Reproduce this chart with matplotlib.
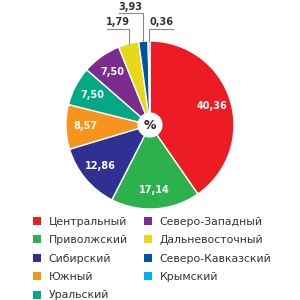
import numpy as np
import matplotlib
matplotlib.use("Agg")
import matplotlib.pyplot as plt
from matplotlib.patches import Circle

regions = ["Центральный", "Приволжский", "Сибирский", "Южный", "Уральский",
           "Северо-Западный", "Дальневосточный", "Северо-Кавказский", "Крымский"]
values = [40.36, 17.14, 12.86, 8.57, 7.50, 7.50, 3.93, 1.79, 0.36]
# подписи как на картинке
value_labels = ["40,36", "17,14", "12,86", "8,57", "7,50", "7,50", "1,79", "3,93", "0,36"]
colors = ["#ED1C24", "#2BB24C", "#2E3192", "#F7941D", "#00A884",
          "#7B2C8E", "#E8D81A", "#0054A6", "#00AEEF"]

fig = plt.figure(figsize=(3, 3), dpi=100)
ax = fig.add_axes([0, 0, 1, 1])
R = 84  # радиус в пикселях

wedges, _ = ax.pie(values, colors=colors, startangle=90, counterclock=False,
                   radius=1, wedgeprops=dict(edgecolor="white", linewidth=1))
ax.set_xlim(-150 / R, 150 / R)
ax.set_ylim(-175 / R, 125 / R)
ax.axis("off")

# подписи внутри
for w, lab, v in zip(wedges, value_labels, values):
    if v < 5:
        continue
    ang = np.deg2rad((w.theta1 + w.theta2) / 2)
    ax.text(0.77 * np.cos(ang), 0.77 * np.sin(ang), lab, color="white",
            fontsize=7, fontweight="bold", ha="center", va="center")

# выноски для маленьких секторов (пиксели от левого верхнего угла)
def px(x, y):
    return (x - 150) / R, (125 - y) / R

outside = {6: ((107, 29), (118, 22)), 7: ((119, 13), (130, 7)), 8: ((173, 29), (161, 22))}
for i, (line_end, txt_pos) in outside.items():
    w = wedges[i]
    ang = np.deg2rad((w.theta1 + w.theta2) / 2)
    x0, y0 = np.cos(ang), np.sin(ang)
    xe, ye = px(*line_end)
    ax.plot([x0, x0, xe], [y0, ye, ye], color="#8a8a8a", lw=0.8)
    tx, ty = px(*txt_pos)
    ax.text(tx, ty, value_labels[i], fontsize=7, fontweight="bold",
            color="#333333", ha="center", va="center")

ax.add_patch(Circle((0, 0), 0.15, facecolor="white", edgecolor="none", zorder=5))
ax.text(0, 0, "%", fontsize=9, fontweight="bold", ha="center", va="center",
        color="#222222", zorder=6)

leg = fig.legend(wedges, regions, ncol=2, loc="upper left",
                 bbox_to_anchor=(0.11, 0.278), frameon=False, fontsize=7.8,
                 handlelength=0.75, handleheight=0.75, handletextpad=0.7,
                 labelspacing=0.78, columnspacing=1.5, borderaxespad=0,
                 borderpad=0)
for t in leg.get_texts():
    t.set_color("#333333")
for h in leg.legend_handles:
    h.set_edgecolor("none")

fig.savefig("out.png", dpi=100)
